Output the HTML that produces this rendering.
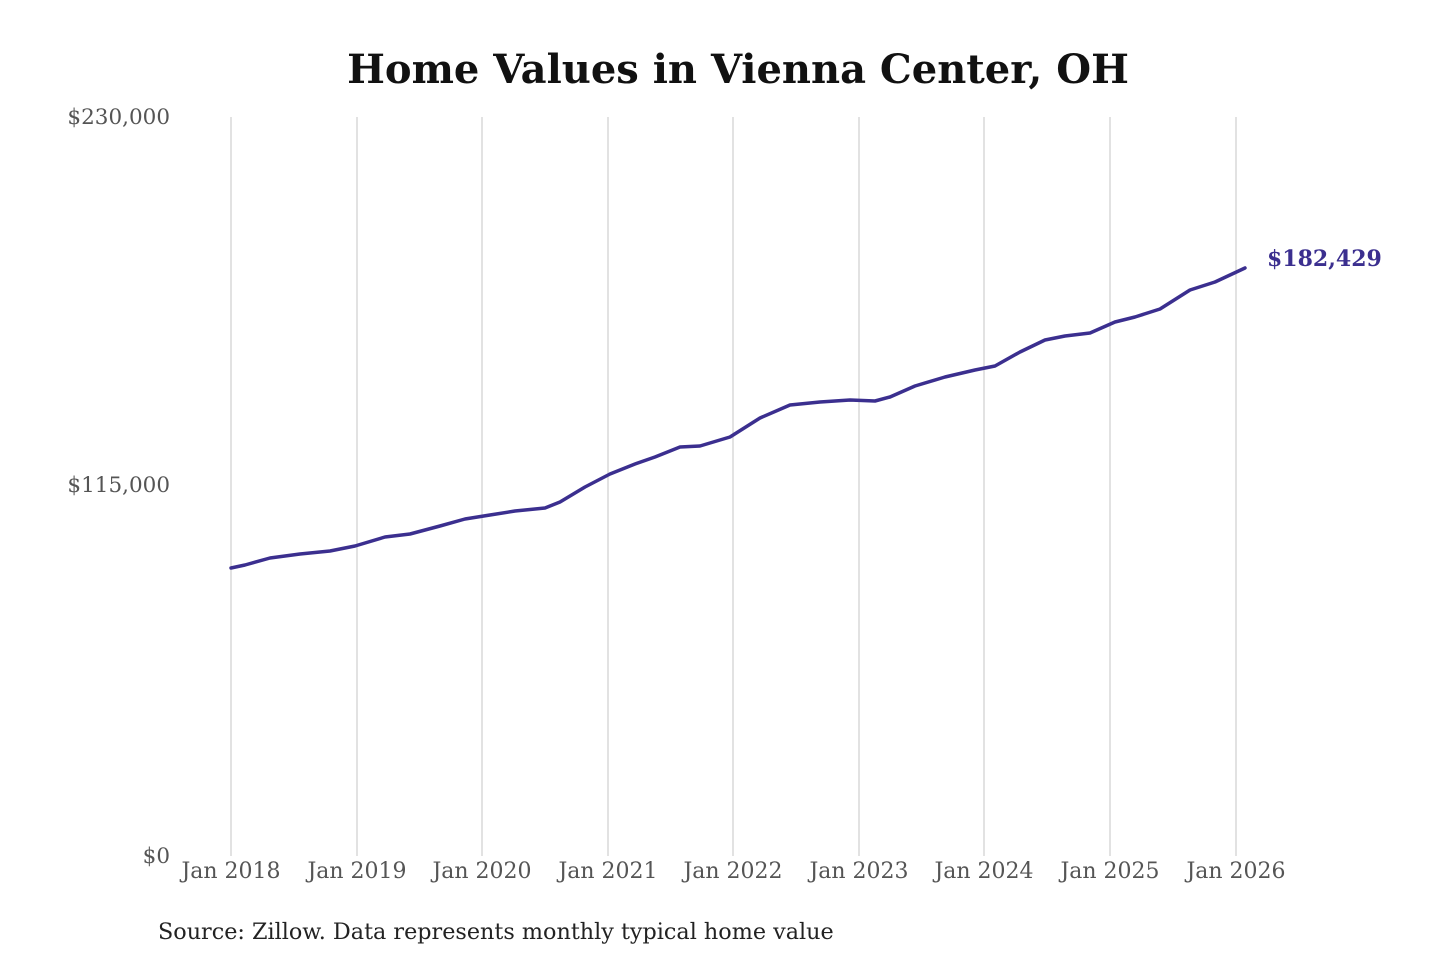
<!DOCTYPE html>
<html><head><meta charset="utf-8"><style>
html,body{margin:0;padding:0;background:#fff;}
svg{display:block;}
</style></head><body>
<svg width="1440" height="960" xmlns="http://www.w3.org/2000/svg">
<text x="738" y="83" text-anchor="middle" font-family="'DejaVu Serif','Liberation Serif',serif" font-weight="bold" font-size="40" fill="#111">Home Values in Vienna Center, OH</text>
<g stroke="#c4c4c4" stroke-width="1">
<line x1="231" y1="117" x2="231" y2="856"/>
<line x1="357" y1="117" x2="357" y2="856"/>
<line x1="482" y1="117" x2="482" y2="856"/>
<line x1="608" y1="117" x2="608" y2="856"/>
<line x1="733" y1="117" x2="733" y2="856"/>
<line x1="859" y1="117" x2="859" y2="856"/>
<line x1="984" y1="117" x2="984" y2="856"/>
<line x1="1110" y1="117" x2="1110" y2="856"/>
<line x1="1236" y1="117" x2="1236" y2="856"/>
</g>
<g font-family="'DejaVu Serif','Liberation Serif',serif" fill="#555">
<g font-size="21.5">
<text x="170" y="124" text-anchor="end">$230,000</text>
<text x="170" y="492" text-anchor="end">$115,000</text>
<text x="170" y="863" text-anchor="end">$0</text>
</g>
<g text-anchor="middle" font-size="22">
<text x="231" y="878">Jan 2018</text>
<text x="357" y="878">Jan 2019</text>
<text x="482" y="878">Jan 2020</text>
<text x="608" y="878">Jan 2021</text>
<text x="733" y="878">Jan 2022</text>
<text x="859" y="878">Jan 2023</text>
<text x="984" y="878">Jan 2024</text>
<text x="1110" y="878">Jan 2025</text>
<text x="1236" y="878">Jan 2026</text>
</g>
</g>
<polyline fill="none" stroke="#3b2f8f" stroke-width="3.5" stroke-linejoin="round" stroke-linecap="round" points="231,568 245,565 270,558 300,554 330,551 355,546 385,537 410,534 440,526 465,519 490,515 515,511 545,508 560,502 585,487 610,474 635,464 655,457 680,447 700,446 730,437 760,418 790,405 820,402 850,400 875,401 890,397 915,386 945,377 975,370 995,366 1020,352 1045,340 1065,336 1090,333 1115,322 1135,317 1160,309 1190,290 1215,282 1245,268"/>
<text x="1267" y="266" font-family="'DejaVu Serif','Liberation Serif',serif" font-weight="bold" font-size="22" fill="#3b2f8f">$182,429</text>
<text x="158" y="939" font-family="'DejaVu Serif','Liberation Serif',serif" font-size="22.3" fill="#222">Source: Zillow. Data represents monthly typical home value</text>
</svg>
</body></html>
